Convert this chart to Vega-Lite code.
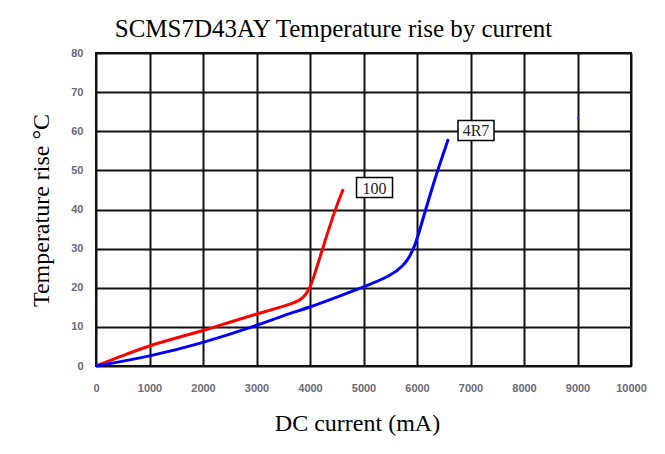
{
  "$schema": "https://vega.github.io/schema/vega-lite/v6.json",
  "width": 535,
  "height": 313,
  "autosize": {"type": "none"},
  "padding": {"left": 96, "top": 53, "right": 34, "bottom": 88},
  "background": "white",
  "title": {
    "text": "SCMS7D43AY Temperature rise by current",
    "font": "Liberation Serif",
    "fontSize": 25,
    "fontWeight": "normal",
    "color": "#000000",
    "anchor": "middle",
    "frame": "group",
    "dx": -30,
    "dy": 25,
    "baseline": "alphabetic",
    "offset": 10
  },
  "datasets": {
    "curves": [
      {"current": 0, "rise": 0, "series": "100"},
      {"current": 500, "rise": 2.7, "series": "100"},
      {"current": 1000, "rise": 5.2, "series": "100"},
      {"current": 1500, "rise": 7.2, "series": "100"},
      {"current": 2000, "rise": 9.0, "series": "100"},
      {"current": 2500, "rise": 11.2, "series": "100"},
      {"current": 3000, "rise": 13.3, "series": "100"},
      {"current": 3440, "rise": 15.0, "series": "100"},
      {"current": 3650, "rise": 15.9, "series": "100"},
      {"current": 3800, "rise": 16.7, "series": "100"},
      {"current": 3900, "rise": 17.9, "series": "100"},
      {"current": 3980, "rise": 19.5, "series": "100"},
      {"current": 4050, "rise": 21.8, "series": "100"},
      {"current": 4236, "rise": 30.0, "series": "100"},
      {"current": 4467, "rise": 40.0, "series": "100"},
      {"current": 4622, "rise": 45.2, "series": "100"},
      {"current": 0, "rise": 0, "series": "4R7"},
      {"current": 1000, "rise": 2.4, "series": "4R7"},
      {"current": 2000, "rise": 5.9, "series": "4R7"},
      {"current": 3000, "rise": 10.3, "series": "4R7"},
      {"current": 3500, "rise": 12.9, "series": "4R7"},
      {"current": 4000, "rise": 15.0, "series": "4R7"},
      {"current": 4500, "rise": 17.6, "series": "4R7"},
      {"current": 5000, "rise": 20.2, "series": "4R7"},
      {"current": 5510, "rise": 23.0, "series": "4R7"},
      {"current": 5760, "rise": 25.8, "series": "4R7"},
      {"current": 5860, "rise": 27.9, "series": "4R7"},
      {"current": 5956, "rise": 30.5, "series": "4R7"},
      {"current": 6060, "rise": 35.2, "series": "4R7"},
      {"current": 6163, "rise": 40.0, "series": "4R7"},
      {"current": 6300, "rise": 46.3, "series": "4R7"},
      {"current": 6430, "rise": 51.8, "series": "4R7"},
      {"current": 6585, "rise": 58.0, "series": "4R7"}
    ],
    "labels": [
      {"current": 5206, "rise": 45.6, "label": "100"},
      {"current": 7103, "rise": 60.2, "label": "4R7"}
    ],
    "stray": [
      {"current": 9010, "rise": 63.4}
    ]
  },
  "encoding": {
    "x": {
      "field": "current",
      "type": "quantitative",
      "scale": {"domain": [0, 10000], "nice": false, "zero": true},
      "axis": {
        "values": [0, 1000, 2000, 3000, 4000, 5000, 6000, 7000, 8000, 9000, 10000],
        "format": "d",
        "grid": true,
        "gridColor": "#111111",
        "gridWidth": 2,
        "gridOpacity": 1,
        "domain": false,
        "ticks": false,
        "labelPadding": 16,
        "labelFlush": false,
        "labelOverlap": false,
        "labelFont": "Liberation Sans",
        "labelFontSize": 11,
        "labelFontWeight": "bold",
        "labelColor": "#6a6a78",
        "title": "DC current (mA)",
        "titleFont": "Liberation Serif",
        "titleFontSize": 24,
        "titleFontWeight": "normal",
        "titleColor": "#000000",
        "titleX": 261,
        "titleY": 64,
        "titleBaseline": "alphabetic"
      }
    },
    "y": {
      "field": "rise",
      "type": "quantitative",
      "scale": {"domain": [0, 80], "nice": false},
      "axis": {
        "values": [0, 10, 20, 30, 40, 50, 60, 70, 80],
        "format": "d",
        "grid": true,
        "gridColor": "#111111",
        "gridWidth": 2,
        "gridOpacity": 1,
        "domain": false,
        "ticks": false,
        "labelPadding": 13,
        "labelOverlap": false,
        "labelBound": false,
        "labelFont": "Liberation Sans",
        "labelFontSize": 11,
        "labelFontWeight": "bold",
        "labelColor": "#6a6a78",
        "title": "Temperature rise \u00b0C",
        "titleFont": "Liberation Serif",
        "titleFontSize": 24,
        "titleFontWeight": "normal",
        "titleColor": "#000000",
        "titleX": -48,
        "titleY": 157,
        "titleAngle": 270,
        "titleBaseline": "alphabetic"
      }
    }
  },
  "layer": [
    {
      "data": {"name": "curves"},
      "mark": {"type": "line", "strokeWidth": 3, "interpolate": "basis"},
      "encoding": {
        "color": {
          "field": "series",
          "type": "nominal",
          "scale": {"domain": ["100", "4R7"], "range": ["#ff0000", "#0000ff"]},
          "legend": null
        }
      }
    },
    {
      "data": {"name": "labels"},
      "mark": {
        "type": "point",
        "shape": "M-1.8,-1H1.8V1H-1.8Z",
        "size": 400,
        "filled": true,
        "fill": "white",
        "stroke": "black",
        "strokeWidth": 1.5,
        "opacity": 1
      },
      "encoding": {}
    },
    {
      "data": {"name": "labels"},
      "mark": {
        "type": "text",
        "font": "Liberation Serif",
        "fontSize": 16,
        "color": "#222222",
        "align": "center",
        "baseline": "middle",
        "dy": 1
      },
      "encoding": {
        "text": {"field": "label", "type": "nominal"}
      }
    },
    {
      "data": {"name": "stray"},
      "mark": {"type": "point", "filled": true, "color": "#3030ff", "size": 6, "opacity": 1},
      "encoding": {}
    }
  ],
  "config": {
    "view": {"stroke": "#111111", "strokeWidth": 2},
    "axisY": {"labelOverlap": false}
  }
}
